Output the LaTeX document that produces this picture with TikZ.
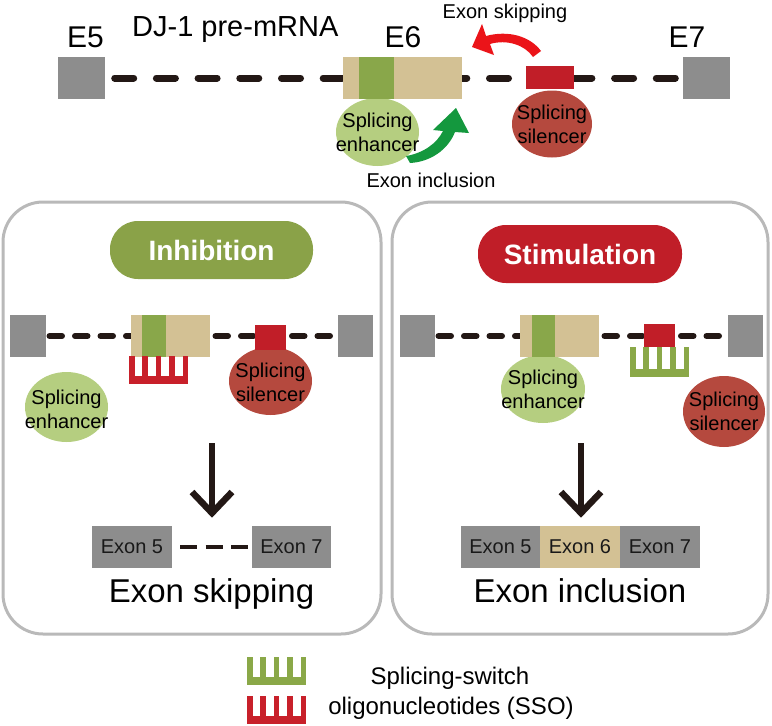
\documentclass[tikz,border=0pt]{standalone}
\usepackage{fontspec}
\setmainfont{Liberation Sans}
\usetikzlibrary{shapes.geometric,backgrounds}
\definecolor{exgray}{RGB}{141,141,141}
\definecolor{extan}{RGB}{211,193,148}
\definecolor{stripegreen}{RGB}{137,167,74}
\definecolor{pillgreen}{RGB}{138,162,72}
\definecolor{enhgreen}{RGB}{181,206,128}
\definecolor{silred}{RGB}{181,73,62}
\definecolor{rectred}{RGB}{193,30,40}
\definecolor{ssored}{RGB}{200,32,42}
\definecolor{ssogreen}{RGB}{138,168,72}
\definecolor{pillred}{RGB}{192,30,40}
\definecolor{arrred}{RGB}{235,20,25}
\definecolor{arrgreen}{RGB}{20,152,62}
\definecolor{panelgray}{RGB}{185,185,185}
\definecolor{dark}{RGB}{35,24,21}
\newcommand\ssocomb[4]{%
  \fill[#4] (#1,#2+#3-8) rectangle (#1+59,#2+#3);
  \foreach \i in {0,...,4}{\fill[#4] (#1+\i*13.4,#2) rectangle (#1+\i*13.4+5.6,#2+#3-7);}
}
\begin{document}
\begin{tikzpicture}[x=1pt,y=-1pt,
  box/.style={rectangle,inner sep=0pt,outer sep=0pt,draw=none},
  gbox/.style={box,fill=exgray,minimum width=#1,minimum height=42},
  tbox/.style={box,fill=extan,minimum width=#1,minimum height=42},
  sbox/.style={box,fill=stripegreen,minimum width=#1,minimum height=42},
  rbox/.style={box,fill=rectred,minimum width=#1,minimum height=24},
  enh/.style={ellipse,inner sep=0pt,fill=enhgreen,draw=none},
  sil/.style={ellipse,inner sep=0pt,fill=silred,draw=none},
  lbl/.style={inner sep=0pt,align=center,text=black,font=\fontsize{20}{24}\selectfont},
  topdash/.style={line width=7pt,dark,line cap=round,dash pattern=on 19pt off 22.7pt},
  pdash/.style={line width=6pt,dark,line cap=round,dash pattern=on 12.5pt off 13pt},
  skipdash/.style={line width=4pt,dark,dash pattern=on 17pt off 8.5pt},
  panel/.style={draw=panelgray,line width=3pt,rounded corners=40pt},
  pill/.style={rectangle,rounded corners=28pt,minimum height=58pt,inner sep=0pt,text=white,font=\bfseries\fontsize{28}{32}\selectfont},
  downarr/.style={line width=6.5pt,dark,line cap=butt,line join=miter},
  exbox/.style={box,minimum width=80,minimum height=42,text=black!90,font=\fontsize{20}{24}\selectfont},
]
\useasboundingbox (0,0) rectangle (772,726);

% ---------------- top pre-mRNA ----------------
\node[enh,minimum width=83pt,minimum height=68pt] (tenh) at (377.5,132) {};
\node[sil,minimum width=80pt,minimum height=67pt] (tsil) at (552,124) {};
\node[gbox=47] (e5) at (81.5,78) {};
\node[tbox=119] (e6) at (402.5,78) {};
\node[sbox=35] (e6s) at (376.5,78) {};
\node[gbox=47] (e7) at (706.5,78) {};
\node[box,fill=rectred,minimum width=48,minimum height=23] (trect) at (550,77.5) {};
\begin{scope}[on background layer]
  \draw[topdash,dash phase=32pt] (e5.east) -- (e6.west);
  \draw[topdash,dash phase=14.2pt] (e6.east) -- (e7.west);
\end{scope}
\node[lbl] at (tenh) {Splicing\\enhancer};
\node[lbl] at (tsil) {Splicing\\silencer};

\node[anchor=base,inner sep=0pt,font=\fontsize{30}{36}\selectfont] (l5) at (85.5,47) {E5};
\node[anchor=base,inner sep=0pt,font=\fontsize{30}{36}\selectfont] (l6) at (403,47) {E6};
\node[anchor=base,inner sep=0pt,font=\fontsize{30}{36}\selectfont] (l7) at (687,47) {E7};
\node[anchor=base west,inner sep=0pt,font=\fontsize{29}{34}\selectfont] (title) at (132,36) {DJ-1 pre-mRNA};
\node[anchor=base,inner sep=0pt,font=\fontsize{20}{24}\selectfont] (tskip) at (505,18) {Exon skipping};
\node[anchor=base,inner sep=0pt,font=\fontsize{20}{24}\selectfont] (tincl) at (431,187) {Exon inclusion};

% curved arrows
\fill[arrgreen] (406,156) .. controls (424,153) and (437,143) .. (443,131) -- (433,130) -- (456,108) -- (469,133) -- (455,132) .. controls (448,150) and (430,162) .. (410,163) -- cycle;
\fill[arrred] (541,51) .. controls (530,36) and (508,30) .. (486,36) -- (482,24) -- (472,47) -- (494,55) -- (490,44) .. controls (507,39) and (525,45) .. (533,57) -- cycle;

% ---------------- panels ----------------
\draw[panel] (3,202) rectangle (381,634);
\draw[panel] (392,202) rectangle (768,634);
\node[pill,fill=pillgreen,minimum width=203pt] (inh) at (211.5,250) {Inhibition};
\node[pill,fill=pillred,minimum width=204pt] (stim) at (580,254) {Stimulation};

% ---- left panel
\node[enh,minimum width=83pt,minimum height=70pt] (lenh) at (66.5,407) {};
\node[sil,minimum width=83pt,minimum height=68pt] (lsil) at (270.5,381) {};
\node[gbox=36] (lg1) at (28,336) {};
\node[tbox=79] (lt) at (170.5,336) {};
\node[sbox=24] (lts) at (154,336) {};
\node[box,fill=rectred,minimum width=31,minimum height=25] (lr) at (270.5,337.5) {};
\node[gbox=35] (lg2) at (355.5,336) {};
\begin{scope}[on background layer]
  \draw[pdash,dash phase=22pt] (lg1.east) -- (lt.west);
  \draw[pdash,dash phase=20pt] (lt.east) -- (lg2.west);
\end{scope}
\ssocomb{129}{356}{28}{ssored}
\node[lbl] at ([yshift=-2pt]lenh) {Splicing\\enhancer};
\node[lbl] at ([yshift=-1pt]lsil) {Splicing\\silencer};

\coordinate (la0) at (212,443);
\coordinate (la1) at (212,513);
\coordinate (law1) at (192,492);
\coordinate (law2) at (232,492);
\draw[downarr] (la0) -- (la1);
\draw[downarr] (law1) -- (la1) -- (law2);

\node[exbox,fill=exgray] (lx5) at (132,547) {Exon 5};
\node[exbox,fill=exgray,minimum width=79] (lx7) at (291.5,547) {Exon 7};
\draw[skipdash] ([xshift=8pt]lx5.east) -- ([xshift=-4pt]lx7.west);
\node[anchor=base,inner sep=0pt,font=\fontsize{33}{38}\selectfont] (lres) at (211.5,602) {Exon skipping};

% ---- right panel
\node[enh,minimum width=84pt,minimum height=68pt] (renh) at (543,389) {};
\node[sil,minimum width=82pt,minimum height=71pt] (rsil) at (724,411.5) {};
\node[gbox=35] (rg1) at (417.5,336) {};
\node[tbox=79] (rt) at (559.5,336) {};
\node[sbox=23] (rts) at (543.5,336) {};
\node[gbox=35] (rg2) at (745.5,336) {};
\begin{scope}[on background layer]
  \draw[pdash,dash phase=22pt] (rg1.east) -- (rt.west);
  \draw[pdash,dash phase=20pt] (rt.east) -- (rg2.west);
\end{scope}
\ssocomb{630}{347}{30}{ssogreen}
\node[box,fill=rectred,minimum width=31,minimum height=23] (rr) at (659.5,335.5) {};
\node[lbl] at (renh) {Splicing\\enhancer};
\node[lbl] at (rsil) {Splicing\\silencer};

\coordinate (ra0) at (581,443);
\coordinate (ra1) at (581,513);
\coordinate (raw1) at (561,492);
\coordinate (raw2) at (601,492);
\draw[downarr] (ra0) -- (ra1);
\draw[downarr] (raw1) -- (ra1) -- (raw2);

\node[exbox,fill=exgray,minimum width=79] (rx5) at (500.5,547) {Exon 5};
\node[exbox,fill=extan] (rx6) at (580,547) {Exon 6};
\node[exbox,fill=exgray] (rx7) at (660,547) {Exon 7};
\node[anchor=base,inner sep=0pt,font=\fontsize{33}{38}\selectfont] (rres) at (580,602) {Exon inclusion};

% ---------------- legend ----------------
\ssocomb{247}{657}{28}{ssogreen}
\ssocomb{247}{696}{28}{ssored}
\node[anchor=base,inner sep=0pt,font=\fontsize{24}{28}\selectfont] (leg1) at (450,684) {Splicing-switch};
\node[anchor=base,inner sep=0pt,font=\fontsize{24}{28}\selectfont] (leg2) at (451,714) {oligonucleotides (SSO)};
\end{tikzpicture}
\end{document}
